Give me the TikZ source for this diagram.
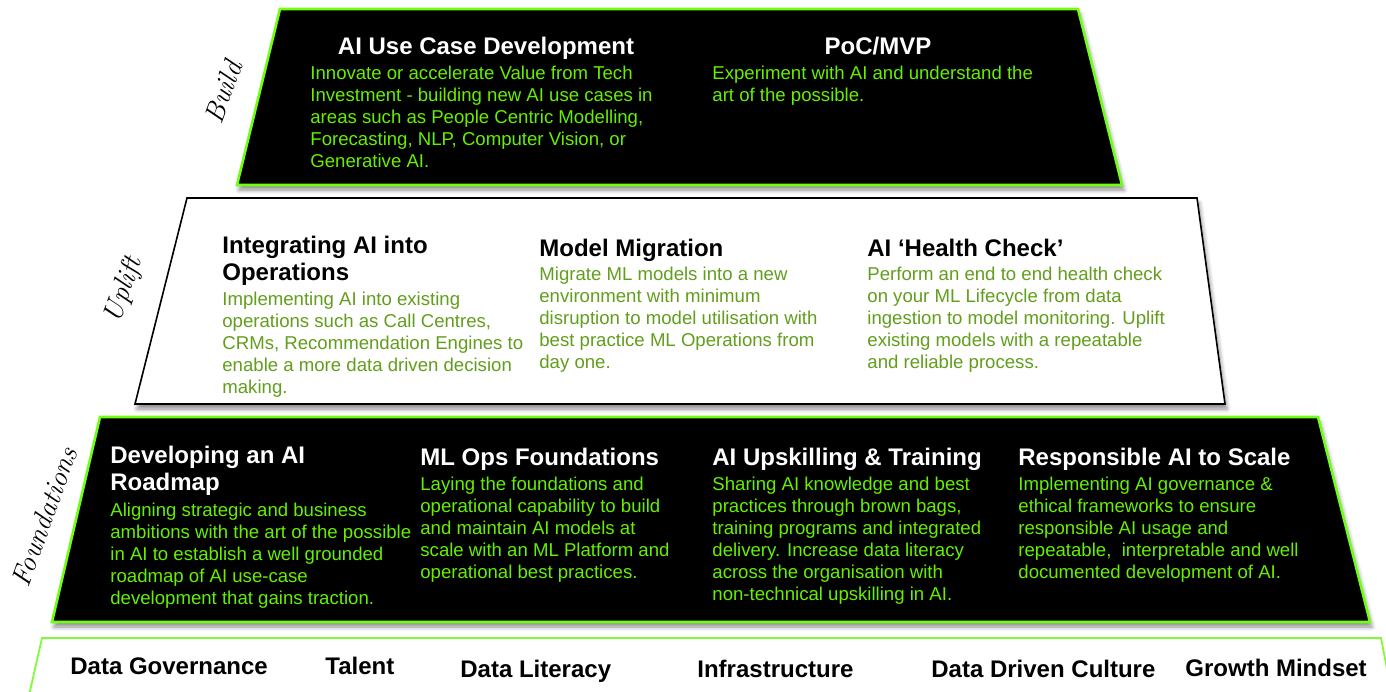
\documentclass[tikz,border=0pt]{standalone}
\usepackage{fontspec}
\setsansfont{Liberation Sans}
\renewcommand{\familydefault}{\sfdefault}
\usetikzlibrary{shadows.blur}

\definecolor{limegreen}{RGB}{102,240,0}
\definecolor{limeedge}{RGB}{110,255,20}
\definecolor{olivetext}{RGB}{98,158,28}
\definecolor{paleedge}{RGB}{130,250,60}

% multi-line nodes sit on the baseline of their last line
\tikzset{
  tiershadow/.style={blur shadow={shadow xshift=1pt,shadow yshift=-2.5pt,shadow blur steps=6,shadow opacity=45}},
  darktier/.style={fill=black,draw=limeedge,line width=1.3pt,tiershadow},
  lighttier/.style={fill=white,draw=black,line width=0.8pt,tiershadow},
  basetier/.style={fill=white,draw=paleedge,line width=0.9pt},
  tierhead/.style={anchor=base west,inner sep=0pt,align=left,font=\fontsize{12}{13.5}\selectfont\bfseries},
  tiertext/.style={anchor=base west,inner sep=0pt,align=left,font=\fontsize{9.3}{11}\selectfont},
  baselabel/.style={anchor=base west,inner sep=0pt,font=\fontsize{12}{14}\selectfont\bfseries},
  sidelabel/.style={rotate=70,font=\rmfamily\itshape\fontsize{14}{16}\selectfont},
}

\begin{document}
\begin{tikzpicture}[x=0.5pt,y=-0.5pt]
  \useasboundingbox (0,0) rectangle (1386,691);

  % the four layers, bottom one first
  \draw[basetier] (42,638) -- (1381,638) -- (1393,700) -- (28,700) -- cycle;
  \draw[darktier] (100,417) -- (1318,417) -- (1370,622) -- (52,622) -- cycle;
  \draw[lighttier] (187,198) -- (1197,198) -- (1225,404) -- (135,404) -- cycle;
  \draw[darktier] (280,9) -- (1078,9) -- (1122,185) -- (237,185) -- cycle;

  % build
  \node[tierhead,anchor=base,white] (ucHead) at (486,54) {AI Use Case Development};
  \node[tiertext,limegreen] (ucText) at (310,167) {Innovate or accelerate Value from Tech\\Investment - building new AI use cases in\\areas such as People Centric Modelling,\\Forecasting, NLP, Computer Vision, or\\Generative AI.};
  \node[tierhead,anchor=base,white] (pocHead) at (878,54) {PoC/MVP};
  \node[tiertext,limegreen] (pocText) at (712,101) {Experiment with AI and understand the\\art of the possible.};

  % uplift
  \node[tierhead] (opsHead) at (222,280) {Integrating AI into\\Operations};
  \node[tiertext,olivetext] (opsText) at (222,393) {Implementing AI into existing\\operations such as Call Centres,\\CRMs, Recommendation Engines to\\enable a more data driven decision\\making.};
  \node[tierhead] (migHead) at (539,256) {Model Migration};
  \node[tiertext,olivetext] (migText) at (539,368) {Migrate ML models into a new\\environment with minimum\\disruption to model utilisation with\\best practice ML Operations from\\day one.};
  \node[tierhead] (hcHead) at (867,256) {AI ‘Health Check’};
  \node[tiertext,olivetext] (hcText) at (867,368) {Perform an end to end health check\\on your ML Lifecycle from data\\ingestion to model monitoring. Uplift\\existing models with a repeatable\\and reliable process.};

  % foundations
  \node[tierhead,white] (rmHead) at (110,490) {Developing an AI\\Roadmap};
  \node[tiertext,limegreen] (rmText) at (110,604) {Aligning strategic and business\\ambitions with the art of the possible\\in AI to establish a well grounded\\roadmap of AI use-case\\development that gains traction.};
  \node[tierhead,white] (mlHead) at (420,465) {ML Ops Foundations};
  \node[tiertext,limegreen] (mlText) at (420,578) {Laying the foundations and\\operational capability to build\\and maintain AI models at\\scale with an ML Platform and\\operational best practices.};
  \node[tierhead,white] (upHead) at (712,465) {AI Upskilling \& Training};
  \node[tiertext,limegreen] (upText) at (712,600) {Sharing AI knowledge and best\\practices through brown bags,\\training programs and integrated\\delivery. Increase data literacy\\across the organisation with\\non-technical upskilling in AI.};
  \node[tierhead,white] (raiHead) at (1018,465) {Responsible AI to Scale};
  \node[tiertext,limegreen] (raiText) at (1018,578) {Implementing AI governance \&\\ethical frameworks to ensure\\responsible AI usage and\\repeatable,\ \ interpretable and well\\documented development of AI.};

  % enablers along the bottom
  \node[baselabel] (govLbl) at (70,674) {Data Governance};
  \node[baselabel] (talentLbl) at (325,674) {Talent};
  \node[baselabel] (litLbl) at (460,677) {Data Literacy};
  \node[baselabel] (infraLbl) at (697,677) {Infrastructure};
  \node[baselabel] (cultureLbl) at (931,677) {Data Driven Culture};
  \node[baselabel] (mindLbl) at (1185,676) {Growth Mindset};

  % layer names
  \node[sidelabel] (buildLbl) at (223,92) {Build};
  \node[sidelabel] (upliftLbl) at (124,290) {Uplift};
  \node[sidelabel] (foundLbl) at (44,517) {Foundations};
\end{tikzpicture}
\end{document}
